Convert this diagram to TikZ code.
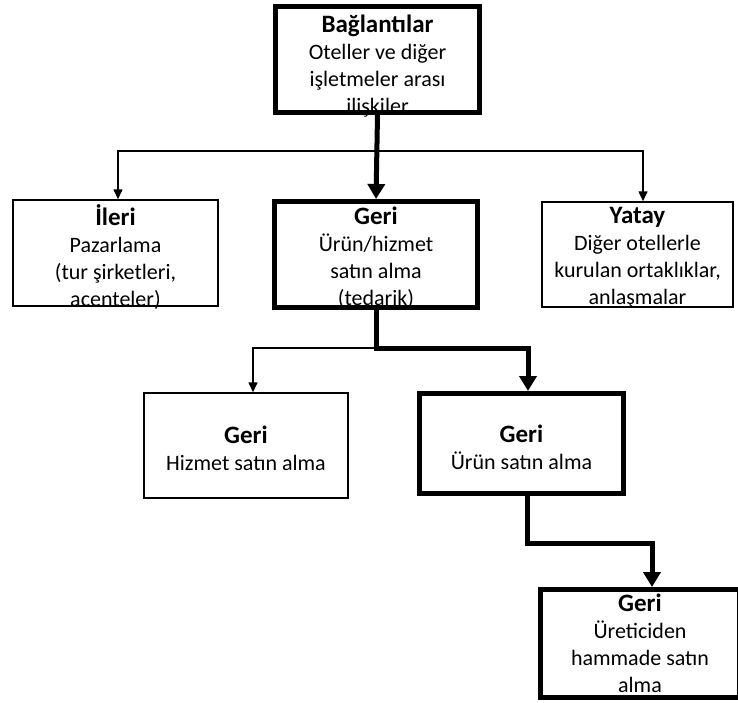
\documentclass[tikz,border=0pt]{standalone}
\usepackage{fontspec}
\setmainfont{Carlito}
\usetikzlibrary{arrows.meta}
\newcommand\boxtitle[1]{{\fontsize{25}{27}\selectfont\bfseries #1}}
\begin{document}
\begin{tikzpicture}[x=1pt,y=-1pt,
 box/.style={draw, line width=1.5pt, inner sep=0pt},
 bbox/.style={box, line width=5pt},
 boxtext/.style={align=center, inner sep=0pt, font=\fontsize{22}{27}\selectfont},
 thinarr/.style={line width=1.5pt, -{Triangle[length=10pt,width=9pt]}},
 thickarr/.style={line width=5pt, -{Triangle[length=15pt,width=17pt]}},
]
\useasboundingbox (0,0) rectangle (738,702);
\node[bbox, minimum width=204pt, minimum height=106pt] (top) at (377.5,59.5) {};
\node[box, minimum width=205pt, minimum height=106pt] (ileri) at (115.5,253) {};
\node[bbox, minimum width=203pt, minimum height=106pt] (geri) at (376,254.5) {};
\node[box, minimum width=191pt, minimum height=105pt] (yatay) at (637.5,254.5) {};
\node[box, minimum width=204pt, minimum height=105pt] (hizmet) at (246,445.5) {};
\node[bbox, minimum width=204pt, minimum height=100pt] (urun) at (521.5,443.5) {};
\node[bbox, minimum width=199.5pt, minimum height=108pt] (bottom) at (640,643.5) {};

\node[boxtext] (topt) at ([yshift=-7pt]top.center)
  {\boxtitle{Bağlantılar}\\Oteller ve diğer\\işletmeler arası\\ilişkiler};
\node[boxtext] (ilerit) at ([yshift=-4pt]ileri.center)
  {\boxtitle{İleri}\\Pazarlama\\(tur şirketleri,\\acenteler)};
\node[boxtext] (gerit) at ([yshift=-3pt]geri.center)
  {\boxtitle{Geri}\\Ürün/hizmet\\satın alma\\(tedarik)};
\node[boxtext] (yatayt) at ([yshift=-3pt]yatay.center)
  {\boxtitle{Yatay}\\Diğer otellerle\\kurulan ortaklıklar,\\anlaşmalar};
\node[boxtext] (hizmett) at ([yshift=-3pt]hizmet.center)
  {\boxtitle{Geri}\\Hizmet satın alma};
\node[boxtext] (urunt) at ([yshift=-4pt]urun.center)
  {\boxtitle{Geri}\\Ürün satın alma};
\node[boxtext] (bottomt) at ([yshift=0pt]bottom.center)
  {\boxtitle{Geri}\\Üreticiden\\hammade satın\\alma};

\coordinate (j1) at (377,151);
\coordinate (j2) at (376,348);
\coordinate (j3) at (527,543);

\draw[thickarr] (top.south) -- (geri.north);
\draw[thinarr] (j1) -| ([xshift=2.5pt]ileri.north);
\draw[thinarr] (j1) -| ([xshift=5.5pt]yatay.north);

\draw[thinarr] (j2) -| ([xshift=7pt]hizmet.north);
\draw[thickarr] (geri.south) -- (j2) -| ([xshift=6.5pt]urun.north);

\draw[thickarr] (urun.south -| j3) -- (j3) -| ([xshift=12pt]bottom.north);
\end{tikzpicture}
\end{document}
